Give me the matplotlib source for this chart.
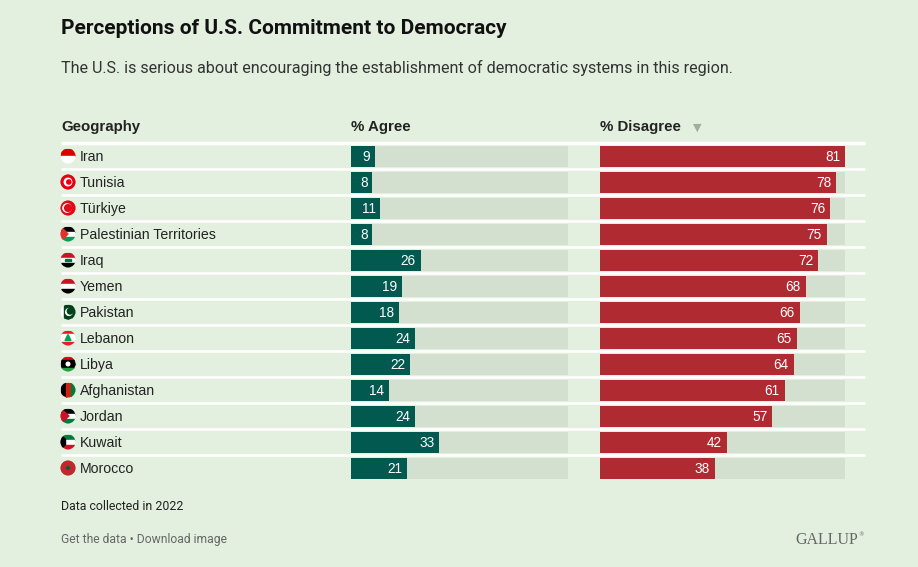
import matplotlib.pyplot as plt
from matplotlib.patches import Circle, Rectangle, Polygon

# data
countries = ["Iran", "Tunisia", "Türkiye", "Palestinian Territories", "Iraq", "Yemen",
             "Pakistan", "Lebanon", "Libya", "Afghanistan", "Jordan", "Kuwait", "Morocco"]
agree = [9, 8, 11, 8, 26, 19, 18, 24, 22, 14, 24, 33, 21]
disagree = [81, 78, 76, 75, 72, 68, 66, 65, 64, 61, 57, 42, 38]

BG = "#E3F0DF"
TRACK = "#D4E0CF"
GREEN = "#02594F"
RED = "#B02A32"
W, H = 918, 567

fig = plt.figure(figsize=(W / 100, H / 100), dpi=100, facecolor=BG)

# full-figure axes in pixel coordinates for text, lines and flags
bg = fig.add_axes([0, 0, 1, 1])
bg.set_xlim(0, W)
bg.set_ylim(H, 0)
bg.axis("off")
bg.set_facecolor(BG)

TF = "Roboto"
RF = "Liberation Sans"

bg.text(61, 29, "Perceptions of U.S. Commitment to Democracy", fontsize=15, fontweight="bold",
        family=TF, color="#111111", va="center")
bg.text(61, 68, "The U.S. is serious about encouraging the establishment of democratic systems in this region.",
        fontsize=11.6, family=TF, color="#333333", va="center")

bg.text(61, 127, "Geography", fontsize=10.8, fontweight="bold", family=RF, color="#222222", va="center")
bg.text(351, 127, "% Agree", fontsize=10.8, fontweight="bold", family=RF, color="#222222", va="center")
bg.text(600, 127, "% Disagree", fontsize=10.8, fontweight="bold", family=RF, color="#222222", va="center")
bg.text(697, 128, "▼", fontsize=8, color="#A3ACA0", va="center", ha="center", family="DejaVu Sans")

row0, row_h = 143, 26
n = len(countries)
bg.plot([61, 865], [row0, row0], color="white", lw=2.5, solid_capstyle="butt")
for i in range(1, n):
    y = row0 + row_h * i
    bg.plot([61, 865], [y, y], color="white", lw=1.8, solid_capstyle="butt")

for i, c in enumerate(countries):
    yc = row0 + row_h * i + row_h / 2
    bg.text(80, yc + 0.7, c, fontsize=10.2, family=RF, color="#222222", va="center")


# flags: small clipped circles
def stripes(cx, cy, r, cols, vertical=False):
    arts = []
    k = len(cols)
    for j, col in enumerate(cols):
        if vertical:
            arts.append(Rectangle((cx - r + 2 * r * j / k, cy - r), 2 * r / k, 2 * r, color=col))
        else:
            arts.append(Rectangle((cx - r, cy - r + 2 * r * j / k), 2 * r, 2 * r / k, color=col))
    return arts


flag_specs = {
    "Iran": lambda x, y, r: stripes(x, y, r, ["#DA0000", "white"]),
    "Tunisia": lambda x, y, r: [Circle((x, y), r, color="#E70013"), Circle((x, y), r * 0.5, color="white"),
                                Circle((x + 0.8, y), r * 0.28, color="#E70013")],
    "Türkiye": lambda x, y, r: [Circle((x, y), r, color="#E30A17"), Circle((x - 1, y), r * 0.55, color="white"),
                                Circle((x, y), r * 0.45, color="#E30A17")],
    "Palestinian Territories": lambda x, y, r: stripes(x, y, r, ["black", "white", "#149954"]) +
        [Polygon([(x - r, y - r), (x, y), (x - r, y + r)], color="#E4312B")],
    "Iraq": lambda x, y, r: stripes(x, y, r, ["#CE1126", "white", "black"]) +
        [Rectangle((x - 3, y - 1), 6, 2, color="#007A3D")],
    "Yemen": lambda x, y, r: stripes(x, y, r, ["#CE1126", "white", "black"]),
    "Pakistan": lambda x, y, r: stripes(x, y, r, ["white", "#01411C", "#01411C", "#01411C"], vertical=True) +
        [Circle((x + 1, y), r * 0.45, color="white"), Circle((x + 2.2, y - 0.8), r * 0.38, color="#01411C")],
    "Lebanon": lambda x, y, r: stripes(x, y, r, ["#ED1C24", "white", "white", "#ED1C24"]) +
        [Polygon([(x, y - 3.5), (x - 3, y + 2.5), (x + 3, y + 2.5)], color="#00A651")],
    "Libya": lambda x, y, r: stripes(x, y, r, ["#E70013", "black", "black", "#239E46"]) +
        [Circle((x, y), 1.8, color="white")],
    "Afghanistan": lambda x, y, r: stripes(x, y, r, ["black", "#D32011", "#007A36"], vertical=True),
    "Jordan": lambda x, y, r: stripes(x, y, r, ["black", "white", "#007A3D"]) +
        [Polygon([(x - r, y - r), (x + 1, y), (x - r, y + r)], color="#CE1126")],
    "Kuwait": lambda x, y, r: stripes(x, y, r, ["#007A3D", "white", "#CE1126"]) +
        [Polygon([(x - r, y - r), (x - r + 5, y - r / 3), (x - r + 5, y + r / 3), (x - r, y + r)], color="black")],
    "Morocco": lambda x, y, r: [Circle((x, y), r, color="#C1272D"), Circle((x, y), 1.3, color="#006233")],
}

fr = 7.5
for i, c in enumerate(countries):
    yc = row0 + row_h * i + row_h / 2
    clip = Circle((68, yc), fr, transform=bg.transData, facecolor="none", edgecolor="none")
    bg.add_patch(clip)
    for p in flag_specs[c](68, yc, fr):
        bg.add_patch(p)
        p.set_clip_path(clip)

# bar panels
scale_max = max(max(agree), max(disagree))
top_px, bot_px = row0 + 0.5, row0 + 0.5 + row_h * n


def panel(x0, x1, vals, color):
    ax = fig.add_axes([x0 / W, 1 - bot_px / H, (x1 - x0) / W, (bot_px - top_px) / H])
    ax.set_xlim(0, scale_max)
    ax.set_ylim(n - 0.5, -0.5)
    ax.axis("off")
    ax.patch.set_alpha(0)
    ys = list(range(n))
    ax.barh(ys, [scale_max] * n, height=0.8, color=TRACK, linewidth=0)
    ax.barh(ys, vals, height=0.8, color=color, linewidth=0)
    for yv, v in zip(ys, vals):
        ax.annotate(str(v), (v, yv), xytext=(-3.5, -0.5), textcoords="offset points",
                    ha="right", va="center", color="white", fontsize=9.8, family=RF)
    return ax


panel(351, 568, agree, GREEN)
panel(600, 845, disagree, RED)

bg.text(61, 506, "Data collected in 2022", fontsize=8.9, family=TF, color="#222222", va="center")
bg.text(61, 540, "Get the data • Download image", fontsize=8.7, family=TF, color="#666666", va="center")
bg.text(858, 540, "GALLUP", fontsize=11.5, family="Liberation Serif", color="#666666", va="center", ha="right")
bg.text(858.5, 535, "®", fontsize=4, family="DejaVu Sans", color="#666666", va="center", ha="left")

fig.savefig("out.png", dpi=100, facecolor=BG)
